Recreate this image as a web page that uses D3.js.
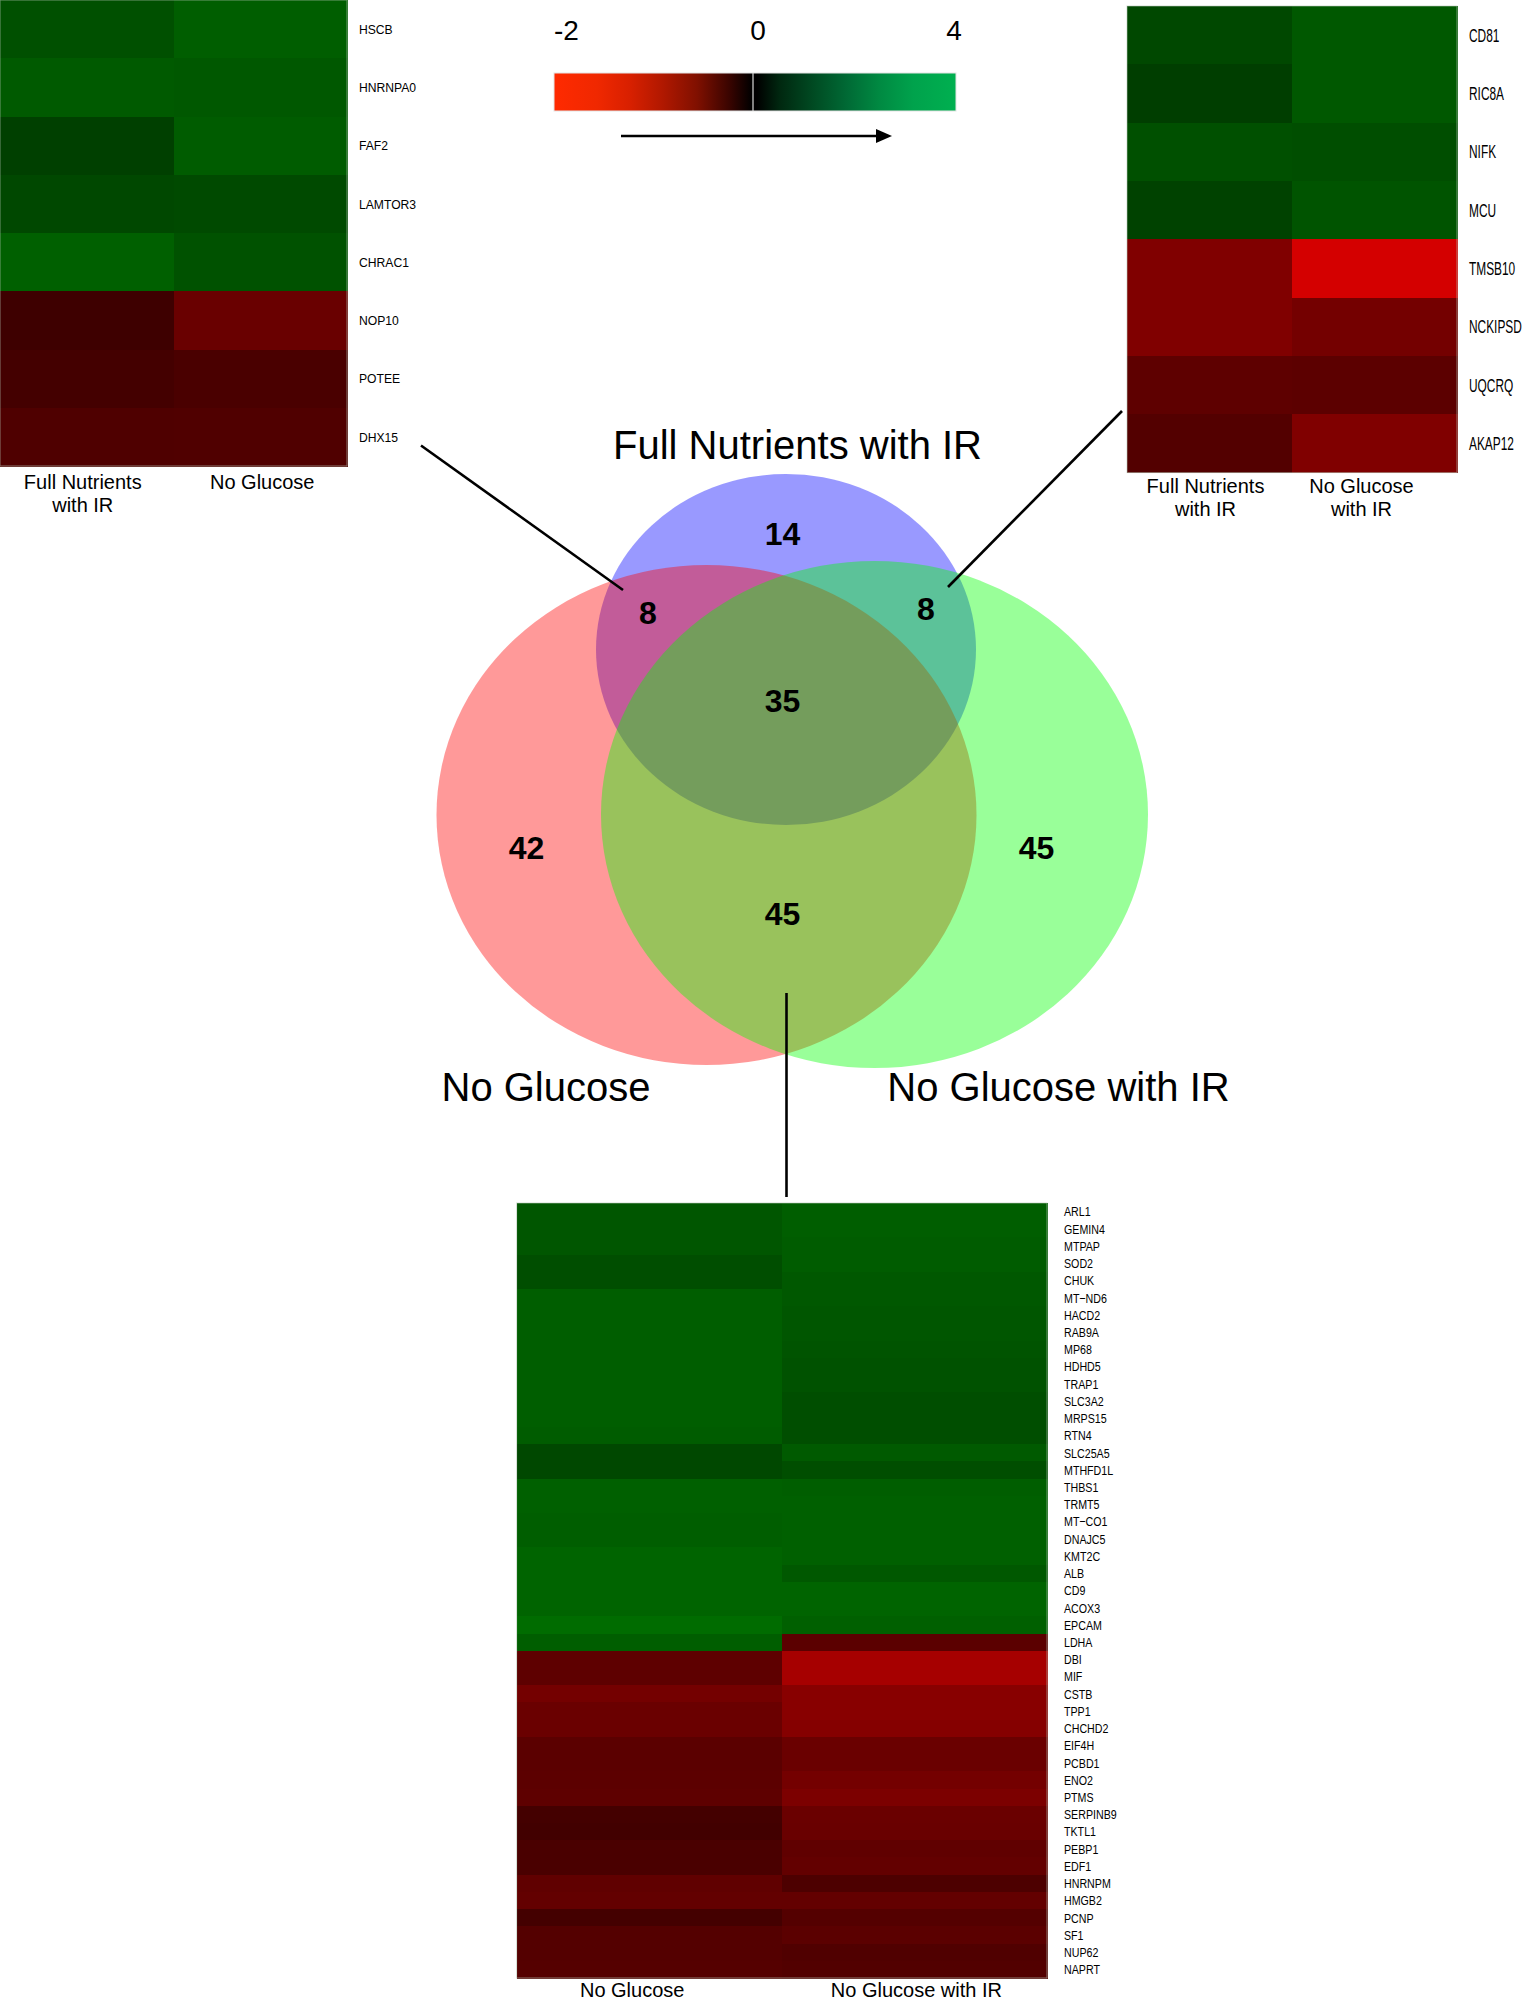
<!DOCTYPE html>
<html><head><meta charset="utf-8">
<script src="https://cdn.jsdelivr.net/npm/d3@7"></script>
<style>
body{margin:0;background:#fff}
svg{display:block}
text{font-family:"Liberation Sans",Arial,Helvetica,sans-serif;fill:#000}
</style>
</head><body>
<svg id="c" width="1523" height="2001"></svg>
<script>
// ---------------- DATA ----------------
const colorTicks = [-2, 0, 4];

const vennSets = ["Full Nutrients with IR", "No Glucose", "No Glucose with IR"];
const vennRegions = ["FN only", "FN & NG", "FN & NGIR", "all three", "NG only", "NGIR only", "NG & NGIR"];
const vennCounts = [14, 8, 8, 35, 42, 45, 45];

// top-left heatmap (Full Nutrients with IR ∩ No Glucose)
const tlGenes = ["HSCB","HNRNPA0","FAF2","LAMTOR3","CHRAC1","NOP10","POTEE","DHX15"];
const tlCols = [["Full Nutrients","with IR"], ["No Glucose"]];
const tlFullNutrientsIR = [1.25, 1.41, 1.00, 1.13, 1.51, -0.49, -0.53, -0.62];
const tlNoGlucose       = [1.47, 1.38, 1.44, 1.16, 1.29, -0.82, -0.58, -0.63];

// top-right heatmap (Full Nutrients with IR ∩ No Glucose with IR)
const trGenes = ["CD81","RIC8A","NIFK","MCU","TMSB10","NCKIPSD","UQCRQ","AKAP12"];
const trCols = [["Full Nutrients","with IR"], ["No Glucose","with IR"]];
const trFullNutrientsIR = [1.13, 0.97, 1.25, 1.04, -1.00, -1.00, -0.74, -0.65];
const trNoGlucoseIR     = [1.38, 1.38, 1.22, 1.32, -1.66, -0.91, -0.72, -1.00];

// bottom heatmap (No Glucose ∩ No Glucose with IR)
const btGenes = ["ARL1","GEMIN4","MTPAP","SOD2","CHUK","MT\u2212ND6","HACD2","RAB9A","MP68","HDHD5",
  "TRAP1","SLC3A2","MRPS15","RTN4","SLC25A5","MTHFD1L","THBS1","TRMT5","MT\u2212CO1","DNAJC5",
  "KMT2C","ALB","CD9","ACOX3","EPCAM","LDHA","DBI","MIF","CSTB","TPP1",
  "CHCHD2","EIF4H","PCBD1","ENO2","PTMS","SERPINB9","TKTL1","PEBP1","EDF1","HNRNPM",
  "HMGB2","PCNP","SF1","NUP62","NAPRT"];
const btCols = [["No Glucose"], ["No Glucose with IR"]];
const btNoGlucose = [1.35,1.35,1.35,1.22,1.22,1.47,1.47,1.47,1.47,1.47,
  1.47,1.47,1.47,1.44,1.13,1.13,1.51,1.51,1.47,1.47,
  1.57,1.57,1.57,1.57,1.69,1.47,-0.74,-0.74,-0.91,-0.83,
  -0.83,-0.71,-0.71,-0.72,-0.74,-0.53,-0.52,-0.58,-0.58,-0.75,
  -0.78,-0.53,-0.66,-0.66,-0.67];
const btNoGlucoseIR = [1.47,1.47,1.44,1.44,1.38,1.38,1.35,1.35,1.32,1.29,
  1.29,1.22,1.22,1.22,1.41,1.22,1.47,1.51,1.51,1.51,
  1.51,1.38,1.57,1.57,1.51,-0.71,-1.30,-1.30,-1.07,-1.07,
  -1.04,-0.83,-0.83,-0.91,-0.97,-0.83,-0.82,-0.75,-0.78,-0.60,
  -0.78,-0.66,-0.71,-0.63,-0.64];

// ---------------- DRAW ----------------
const svg = d3.select("#c");
const heat = d3.scaleLinear().domain([-2, 0, 4]).range(["#ff0000", "#000000", "#00ff00"]);

function heatmap(opt) {
  const g = svg.append("g");
  const cols = opt.values.map((_, j) => j);
  const x = d3.scaleBand().domain(cols).range([opt.x0, opt.x1]);
  const y = d3.scaleBand().domain(opt.genes).range([opt.y0, opt.y1]);
  opt.values.forEach((vals, j) => {
    g.selectAll(null).data(opt.genes).enter().append("rect")
      .attr("x", x(j)).attr("y", d => y(d))
      .attr("width", x.bandwidth() + 0.6).attr("height", y.bandwidth() + 0.6)
      .attr("fill", (d, i) => heat(vals[i]))
      .attr("shape-rendering", "crispEdges");
  });
  g.append("rect").attr("x", opt.x0).attr("y", opt.y0)
    .attr("width", opt.x1 - opt.x0).attr("height", opt.y1 - opt.y0)
    .attr("fill", "none").attr("stroke", "#b8c8b8").attr("stroke-opacity", 0.6).attr("stroke-width", 1);
  // gene labels
  g.selectAll(null).data(opt.genes).enter().append("text")
    .attr("transform", d => `translate(${opt.labelX},${y(d) + y.bandwidth() / 2}) scale(${opt.labelSX},1)`)
    .attr("dy", "0.36em")
    .style("font-size", opt.labelSize + "px")
    .text(d => d);
  // column labels
  opt.cols.forEach((lines, j) => {
    const cx = x(j) + x.bandwidth() / 2 + opt.colDX[j];
    const t = g.append("text")
      .attr("x", cx)
      .attr("y", opt.colY)
      .attr("text-anchor", "middle")
      .style("font-size", "20px");
    lines.forEach((ln, k) => {
      t.append("tspan").attr("x", cx).attr("dy", k === 0 ? 0 : 23).text(ln);
    });
  });
}

heatmap({genes: tlGenes, values: [tlFullNutrientsIR, tlNoGlucose], cols: tlCols,
  x0: 0, x1: 347, y0: 0, y1: 466, labelX: 359, labelSX: 0.9, labelSize: 13.5,
  colY: 489, colDX: [-4, 2]});
heatmap({genes: trGenes, values: [trFullNutrientsIR, trNoGlucoseIR], cols: trCols,
  x0: 1127, x1: 1457, y0: 6, y1: 472.6, labelX: 1469, labelSX: 0.66, labelSize: 18,
  colY: 493, colDX: [-4, -13]});
heatmap({genes: btGenes, values: [btNoGlucose, btNoGlucoseIR], cols: btCols,
  x0: 516.6, x1: 1047, y0: 1203, y1: 1978, labelX: 1064, labelSX: 0.79, labelSize: 13.5,
  colY: 1997, colDX: [-17, 2]});

// ---------------- COLOR BAR ----------------
const cb = d3.scaleLinear().domain(colorTicks).range([554, 753, 956]);
const defs = svg.append("defs");
const grad = defs.append("linearGradient").attr("id", "cbgrad")
  .attr("gradientUnits", "userSpaceOnUse").attr("x1", cb(-2)).attr("x2", cb(4)).attr("y1", 0).attr("y2", 0);
const gradStops = [[554,"#ff2a00"],[597,"#f02800"],[630,"#d82000"],[663,"#b01800"],[697,"#801000"],[730,"#380400"],[752,"#000000"],
  [757,"#000000"],[780,"#002810"],[813,"#004a22"],[847,"#006a35"],[880,"#008a42"],[913,"#00a24c"],[956,"#00b050"]];
gradStops.forEach(s => grad.append("stop")
  .attr("offset", (s[0] - cb(-2)) / (cb(4) - cb(-2))).attr("stop-color", s[1]));
svg.append("rect").attr("x", cb(-2)).attr("y", 73).attr("width", cb(4) - cb(-2)).attr("height", 38)
  .attr("fill", "url(#cbgrad)").attr("stroke", "#e4e4e4").attr("stroke-width", 1);
svg.append("line").attr("x1", cb(0)).attr("x2", cb(0)).attr("y1", 73).attr("y2", 111)
  .attr("stroke", "#d8d8d8").attr("stroke-width", 1.2);
svg.selectAll(".cbt").data(colorTicks).enter().append("text")
  .attr("x", d => d === -2 ? cb(d) : d === 0 ? cb(d) + 5 : cb(d) - 2)
  .attr("y", 40)
  .attr("text-anchor", d => d === -2 ? "start" : "middle")
  .style("font-size", "28px")
  .text(d => d);
svg.append("line").attr("x1", 621).attr("x2", 880).attr("y1", 136).attr("y2", 136)
  .attr("stroke", "#000").attr("stroke-width", 2.5);
svg.append("path").attr("d", "M876,129 L892,136 L876,143 Z").attr("fill", "#000");

// ---------------- VENN ----------------
const venn = svg.append("g");
const ellipses = [
  {set: vennSets[0], cx: 786, cy: 649.5, rx: 190, ry: 175.5, color: "#0000ff"},
  {set: vennSets[1], cx: 706.5, cy: 815, rx: 270, ry: 250, color: "#ff0000"},
  {set: vennSets[2], cx: 874.5, cy: 814.5, rx: 273.5, ry: 253.5, color: "#00ff00"}
];
venn.selectAll("ellipse").data(ellipses).enter().append("ellipse")
  .attr("cx", d => d.cx).attr("cy", d => d.cy).attr("rx", d => d.rx).attr("ry", d => d.ry)
  .attr("fill", d => d.color).attr("fill-opacity", 0.4);

const regionPos = {
  "FN only": [782.5, 545], "FN & NG": [648, 623.5], "FN & NGIR": [926, 620],
  "all three": [782.5, 711.5], "NG only": [526.5, 859], "NGIR only": [1036.5, 859], "NG & NGIR": [782.5, 925]
};
venn.selectAll(".cnt").data(vennRegions).enter().append("text")
  .attr("x", d => regionPos[d][0]).attr("y", d => regionPos[d][1])
  .attr("text-anchor", "middle")
  .style("font-size", "32px").style("font-weight", "bold")
  .text((d, i) => vennCounts[i]);

const setLabelPos = [[797.5, 459], [546, 1101], [1058.5, 1101]];
venn.selectAll(".setlab").data(vennSets).enter().append("text")
  .attr("x", (d, i) => setLabelPos[i][0]).attr("y", (d, i) => setLabelPos[i][1])
  .attr("text-anchor", "middle").style("font-size", "40px")
  .text(d => d);

// connector lines
const connectors = [[421, 445.5, 623, 590], [1122, 411, 948, 587], [786.5, 993, 786.5, 1197]];
svg.selectAll(".conn").data(connectors).enter().append("line")
  .attr("x1", d => d[0]).attr("y1", d => d[1]).attr("x2", d => d[2]).attr("y2", d => d[3])
  .attr("stroke", "#000").attr("stroke-width", 2.6);
</script>
</body></html>
